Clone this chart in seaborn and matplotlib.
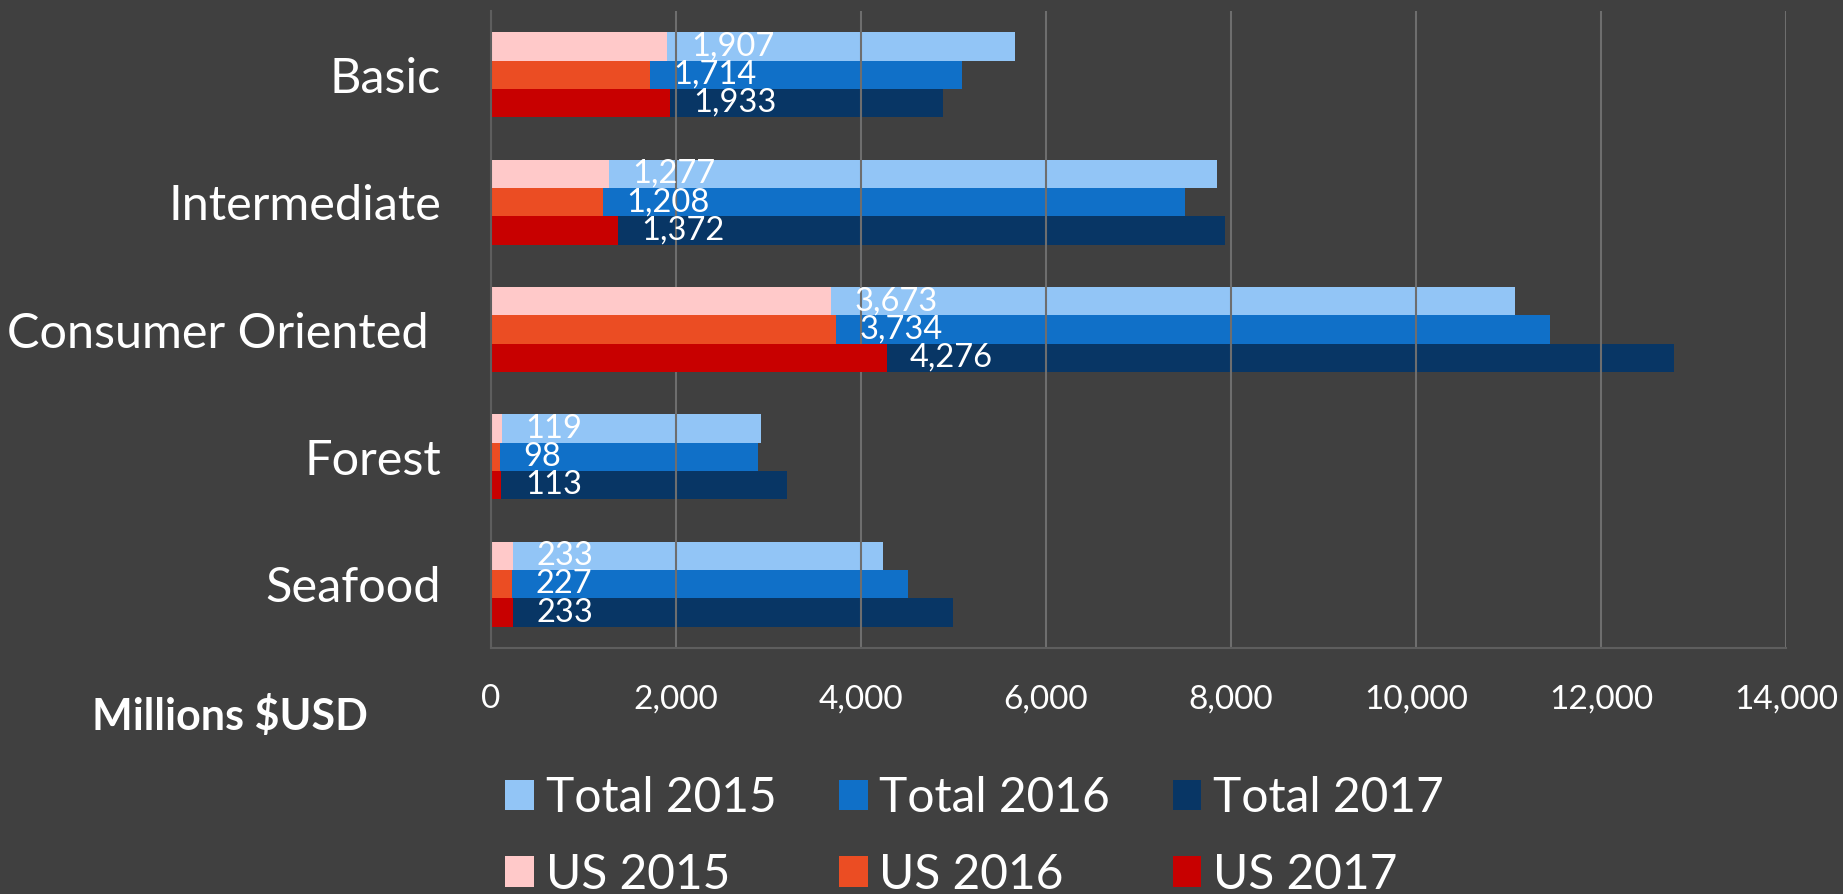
import numpy as np
import pandas as pd
import matplotlib
matplotlib.use("Agg")
import matplotlib.pyplot as plt
from matplotlib.patches import Patch
import seaborn as sns

# ---- data ----
categories = ["Basic", "Intermediate", "Consumer Oriented ", "Forest", "Seafood"]
total_2015 = [5665, 7845, 11070, 2916, 4243]
total_2016 = [5090, 7503, 11449, 2882, 4505]
total_2017 = [4888, 7932, 12789, 3197, 4990]
us_2015 = [1907, 1277, 3673, 119, 233]
us_2016 = [1714, 1208, 3734, 98, 227]
us_2017 = [1933, 1372, 4276, 113, 233]
total_names = ["Total 2015", "Total 2016", "Total 2017"]
us_names = ["US 2015", "US 2016", "US 2017"]
xticks = [0, 2000, 4000, 6000, 8000, 10000, 12000, 14000]
xlabel_text = "Millions $USD"

total_colors = ["#92C5F6", "#1070C8", "#083665"]
us_colors = ["#FFC9C9", "#EB4D23", "#C80000"]
BG = "#404040"

def long_df(series_list, names):
    rows = []
    for name, vals in zip(names, series_list):
        for c, v in zip(categories, vals):
            rows.append({"category": c, "series": name, "value": v})
    return pd.DataFrame(rows)

df_tot = long_df([total_2015, total_2016, total_2017], total_names)
df_us = long_df([us_2015, us_2016, us_2017], us_names)

sns.set_style("dark")
plt.rcParams["font.family"] = ["Lato", "DejaVu Sans"]

fig = plt.figure(figsize=(18.43, 8.94), dpi=100, facecolor=BG)
ax = fig.add_axes([491 / 1843, 1 - 648 / 894, (1786 - 491) / 1843, (648 - 11) / 894])
ax.set_facecolor(BG)

sns.barplot(data=df_tot, x="value", y="category", hue="series", order=categories,
            hue_order=total_names, palette=total_colors, orient="h", width=0.667,
            saturation=1, legend=False, linewidth=0, ax=ax, errorbar=None)
n_tot = len(ax.containers)
sns.barplot(data=df_us, x="value", y="category", hue="series", order=categories,
            hue_order=us_names, palette=us_colors, orient="h", width=0.667,
            saturation=1, legend=False, linewidth=0, ax=ax, errorbar=None, zorder=2)

for cont in ax.containers[n_tot:]:
    ax.bar_label(cont, labels=[f"{v:,.0f}" for v in cont.datavalues], padding=17,
                 color="white", fontsize=23.5, zorder=5)

ax.set_xlim(0, 14000)
ax.set_xticks(xticks)
ax.set_xticklabels([f"{t:,}" for t in xticks])
ax.set_xlabel("")
ax.set_ylabel("")
ax.set_axisbelow("line")
ax.grid(axis="x", color="#6e6e6e", linewidth=1.5)
ax.grid(axis="y", visible=False)
ax.tick_params(axis="x", length=0, pad=26, labelsize=24, labelcolor="white")
ax.tick_params(axis="y", length=0, pad=36, labelsize=35, labelcolor="white")
for s in ["top", "right"]:
    ax.spines[s].set_visible(False)
for s in ["left", "bottom"]:
    ax.spines[s].set_visible(True)
    ax.spines[s].set_color("#5e5e5e")
    ax.spines[s].set_linewidth(1.5)

fig.text(92 / 1843, 1 - 716 / 894, xlabel_text, ha="left", va="center",
         fontsize=31, fontweight="bold", color="white")

handles = []
labels = []
for i in range(3):
    handles.append(Patch(facecolor=total_colors[i], edgecolor="none"))
    labels.append(total_names[i])
    handles.append(Patch(facecolor=us_colors[i], edgecolor="none"))
    labels.append(us_names[i])
leg = fig.legend(handles, labels, ncol=3, loc="upper left",
                 bbox_to_anchor=(505 / 1843, 1 - 776 / 894), frameon=False,
                 fontsize=34.5, labelcolor="white", handlelength=0.6, handleheight=0.6,
                 handletextpad=0.25, columnspacing=1.3, labelspacing=0.68,
                 borderpad=0, borderaxespad=0)

fig.savefig("out.png", dpi=100, facecolor=BG)
